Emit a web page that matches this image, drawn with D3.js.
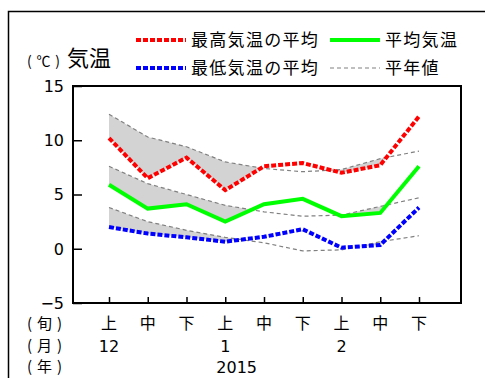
<!DOCTYPE html>
<html>
<head>
<meta charset="utf-8">
<script src="https://cdn.jsdelivr.net/npm/d3@7"></script>
<style>
  body { margin: 0; background: #fff; }
  text { font-family: "Noto Sans CJK JP", "DejaVu Sans", sans-serif; fill: #000; }
  .num { font-family: "DejaVu Sans", sans-serif; }
</style>
</head>
<body>
<div id="chart"></div>
<script>
// decades (旬) Dec 2014 - Feb 2015
const junLabels = ["上", "中", "下", "上", "中", "下", "上", "中", "下"];
const monthLabels = ["12", "", "", "1", "", "", "2", "", ""];
const yearLabel = "2015";
const yTicks = [15, 10, 5, 0, -5];

// observed
const maxAvg = [10.2, 6.5, 8.4, 5.4, 7.6, 7.9, 7.0, 7.7, 12.2];
const meanAvg = [5.9, 3.7, 4.1, 2.5, 4.1, 4.6, 3.0, 3.3, 7.6];
const minAvg = [2.0, 1.4, 1.05, 0.65, 1.1, 1.8, 0.1, 0.35, 3.8];

// normals (平年値)
const maxNormal = [12.4, 10.3, 9.4, 8.0, 7.4, 7.1, 7.3, 8.3, 9.0];
const meanNormal = [7.6, 6.0, 5.0, 4.0, 3.4, 3.0, 3.1, 3.9, 4.7];
const minNormal = [3.8, 2.5, 1.7, 1.05, 0.55, -0.2, -0.1, 0.65, 1.2];

const W = 485, H = 378;
const box = { left: 73, top: 86, right: 461, bottom: 303 };

const svg = d3.select("#chart").append("svg")
    .attr("width", W)
    .attr("height", H);

// outer frame (runs off the right/bottom edge)
svg.append("rect")
    .attr("x", 8.5).attr("y", 11.5)
    .attr("width", 600).attr("height", 600)
    .attr("fill", "none")
    .attr("stroke", "#000")
    .attr("stroke-width", 1.5);

const x = d3.scaleLinear().domain([0, junLabels.length - 1]).range([109, 419]);
const y = d3.scaleLinear().domain([-5, 15]).range([box.bottom, box.top]);

const idx = d3.range(junLabels.length);
const line = arr => d3.line().x(i => x(i)).y(i => y(arr[i]))(idx);

// gray shading where observed is below normal
const pairs = [[maxAvg, maxNormal], [meanAvg, meanNormal], [minAvg, minNormal]];
pairs.forEach((p, k) => {
    const obs = p[0], nrm = p[1];
    svg.append("clipPath").attr("id", "clip" + k)
        .append("path")
        .attr("d", d3.area().x(i => x(i)).y0(0).y1(i => y(obs[i]))(idx));
    svg.append("path")
        .attr("clip-path", "url(#clip" + k + ")")
        .attr("d", d3.area().x(i => x(i)).y0(box.bottom).y1(i => y(nrm[i]))(idx))
        .attr("fill", "#d3d3d3");
});

// normal lines
[maxNormal, meanNormal, minNormal].forEach(arr => {
    svg.append("path")
        .attr("d", line(arr))
        .attr("fill", "none")
        .attr("stroke", "#808080")
        .attr("stroke-width", 1.2)
        .attr("stroke-dasharray", "4,3");
});

// observed lines
svg.append("path").attr("d", line(meanAvg))
    .attr("fill", "none").attr("stroke", "#00ff00").attr("stroke-width", 4);
svg.append("path").attr("d", line(maxAvg))
    .attr("fill", "none").attr("stroke", "#ff0000").attr("stroke-width", 4)
    .attr("stroke-dasharray", "5,2");
svg.append("path").attr("d", line(minAvg))
    .attr("fill", "none").attr("stroke", "#0000ff").attr("stroke-width", 4)
    .attr("stroke-dasharray", "5,2");

// plot box
svg.append("rect")
    .attr("x", box.left).attr("y", box.top)
    .attr("width", box.right - box.left).attr("height", box.bottom - box.top)
    .attr("fill", "none").attr("stroke", "#000").attr("stroke-width", 2);

// y axis (ticks inside)
const yAxis = svg.append("g")
    .attr("transform", "translate(" + box.left + ",0)")
    .call(d3.axisRight(y).tickValues(yTicks).tickSize(9).tickFormat(""));
yAxis.select(".domain").remove();
yAxis.selectAll("line").attr("stroke", "#000").attr("stroke-width", 1.5);

svg.selectAll(".ylab").data(yTicks).enter().append("text")
    .attr("class", "num")
    .attr("x", 64)
    .attr("y", d => y(d))
    .attr("dy", "0.36em")
    .attr("text-anchor", "end")
    .style("font-size", "16px")
    .text(d => d < 0 ? "\u2212" + Math.abs(d) : d);

// x axis (ticks inside)
const xAxis = svg.append("g")
    .attr("transform", "translate(0," + box.bottom + ")")
    .call(d3.axisTop(x).tickValues(idx).tickSize(6).tickFormat(""));
xAxis.select(".domain").remove();
xAxis.selectAll("line").attr("stroke", "#000").attr("stroke-width", 1.5);

svg.selectAll(".jun").data(idx).enter().append("text")
    .attr("x", i => x(i)).attr("y", 329)
    .attr("text-anchor", "middle")
    .style("font-size", "16px")
    .text(i => junLabels[i]);

svg.selectAll(".mon").data(idx).enter().append("text")
    .attr("class", "num")
    .attr("x", i => x(i)).attr("y", 352)
    .attr("text-anchor", "middle")
    .style("font-size", "16px")
    .text(i => monthLabels[i]);

svg.append("text")
    .attr("class", "num")
    .attr("x", (x(3) + x(4)) / 2 - 8).attr("y", 373)
    .attr("text-anchor", "middle")
    .style("font-size", "16px")
    .text(yearLabel);

// row captions
[["(旬)", 329], ["(月)", 351], ["(年)", 372]].forEach(r => {
    svg.append("text")
        .attr("x", 27).attr("y", r[1])
        .attr("textLength", 35)
        .attr("lengthAdjust", "spacing")
        .style("font-size", "15px")
        .text(r[0]);
});

// title
svg.append("text").attr("x", 27).attr("y", 66)
    .attr("textLength", 33)
    .attr("lengthAdjust", "spacing")
    .style("font-size", "14px").text("(℃)");
svg.append("text").attr("x", 67).attr("y", 66)
    .style("font-size", "22px").text("気温");

// legend
const legend = [
    { label: "最高気温の平均", color: "#ff0000", w: 4, dash: "5,2", x: 136, y: 40 },
    { label: "平均気温", color: "#00ff00", w: 4, dash: null, x: 330, y: 40 },
    { label: "最低気温の平均", color: "#0000ff", w: 4, dash: "5,2", x: 136, y: 68 },
    { label: "平年値", color: "#808080", w: 1.2, dash: "4,3", x: 330, y: 68 }
];
legend.forEach(d => {
    svg.append("line")
        .attr("x1", d.x).attr("x2", d.x + 50)
        .attr("y1", d.y).attr("y2", d.y)
        .attr("stroke", d.color)
        .attr("stroke-width", d.w)
        .attr("stroke-dasharray", d.dash);
    svg.append("text")
        .attr("x", d.x + 55).attr("y", d.y)
        .attr("dy", "0.36em")
        .style("font-size", "17px")
        .style("letter-spacing", "1.3px")
        .text(d.label);
});
</script>
</body>
</html>
